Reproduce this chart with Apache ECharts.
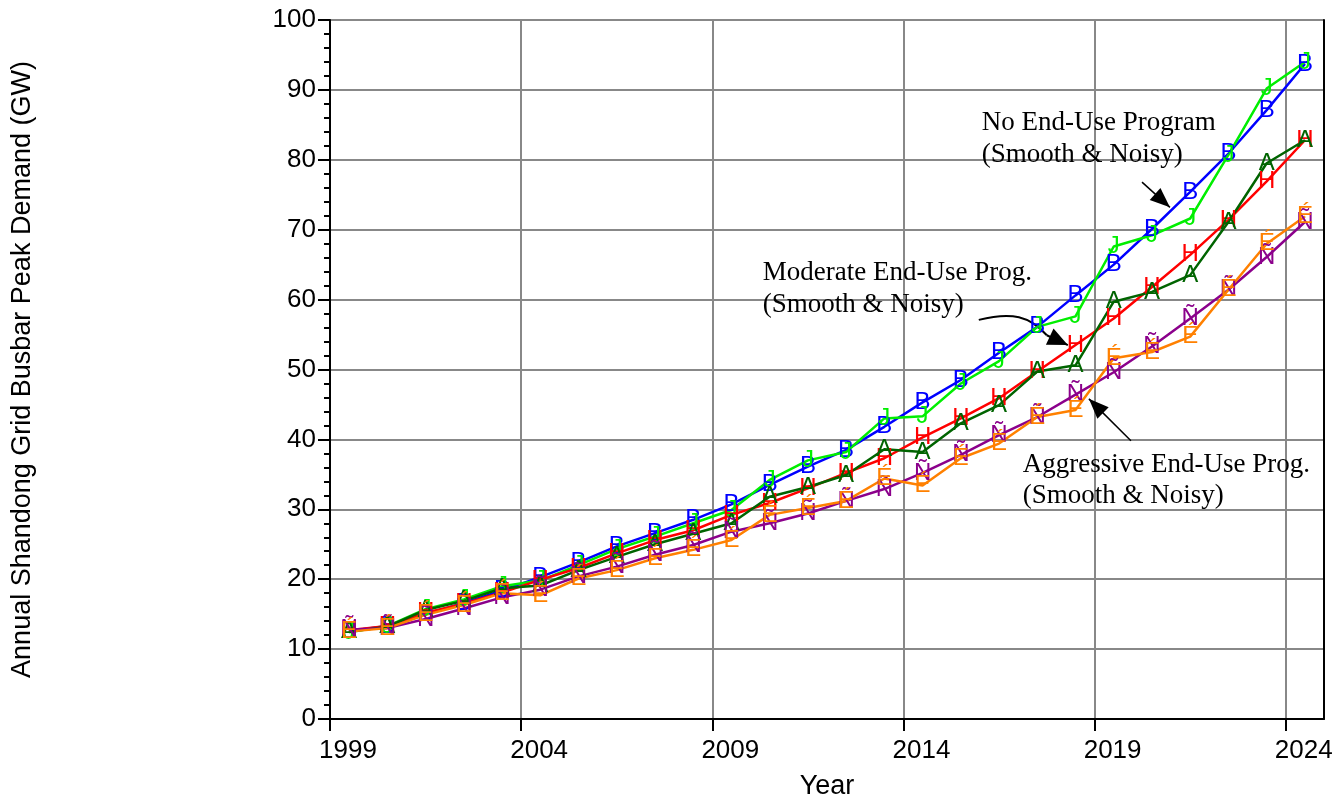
<!DOCTYPE html>
<html>
<head>
<meta charset="utf-8">
<title>Shandong Grid Peak Demand</title>
<script src="https://cdn.jsdelivr.net/npm/echarts@6/dist/echarts.min.js"></script>
<style>
  html, body { margin: 0; padding: 0; background: #fff; }
  #chart { width: 1340px; height: 802px; }
</style>
</head>
<body>
<div id="chart"></div>
<script>
// data points sit mid-year
const years = [1999.5, 2000.5, 2001.5, 2002.5, 2003.5, 2004.5, 2005.5, 2006.5, 2007.5, 2008.5,
  2009.5, 2010.5, 2011.5, 2012.5, 2013.5, 2014.5, 2015.5, 2016.5, 2017.5, 2018.5,
  2019.5, 2020.5, 2021.5, 2022.5, 2023.5, 2024.5]

// No End-Use Program
const noProgSmooth = [12.6, 13.3, 15.0, 16.6, 18.4, 20.3, 22.4, 24.7, 26.6, 28.5,
  30.7, 33.5, 36.1, 38.5, 41.8, 45.3, 48.5, 52.4, 56.1, 60.6,
  65.0, 70.1, 75.4, 80.9, 87.1, 93.7]
const noProgNoisy = [12.4, 13.3, 15.7, 17.1, 19.0, 19.8, 22.0, 24.3, 26.1, 28.0,
  29.9, 34.2, 37.0, 38.2, 43.0, 43.3, 48.0, 51.2, 56.1, 57.6,
  67.6, 69.2, 71.6, 80.7, 90.2, 94.0]

// Moderate End-Use Prog.
const modSmooth = [12.7, 13.3, 15.2, 16.5, 18.1, 19.9, 21.6, 23.7, 25.6, 27.0,
  29.2, 30.9, 33.0, 35.2, 37.3, 40.3, 43.0, 45.9, 49.7, 53.5,
  57.3, 61.8, 66.4, 71.4, 76.9, 82.8]
const modNoisy = [12.5, 13.2, 15.6, 16.9, 18.7, 19.1, 21.3, 23.2, 25.0, 26.5,
  28.0, 31.8, 33.2, 34.9, 38.6, 38.2, 42.3, 44.9, 49.7, 50.6,
  59.7, 61.1, 63.5, 71.1, 79.5, 82.8]

// Aggressive End-Use Prog.
const aggSmooth = [12.8, 13.0, 14.3, 15.8, 17.4, 18.5, 20.4, 21.8, 23.5, 24.9,
  26.8, 28.0, 29.4, 31.2, 32.9, 35.2, 37.8, 40.6, 43.2, 46.4,
  49.6, 53.3, 57.3, 61.4, 66.1, 71.1]
const aggNoisy = [12.5, 13.0, 14.9, 16.3, 18.0, 17.7, 20.1, 21.3, 23.0, 24.2,
  25.6, 29.2, 30.2, 31.2, 34.4, 33.4, 37.3, 39.4, 43.2, 44.2,
  51.6, 52.5, 54.7, 61.4, 68.0, 71.9]

const seriesDefs = [
  { name: 'No End-Use (Smooth)', data: noProgSmooth, letter: 'B', color: '#0000ff' },
  { name: 'No End-Use (Noisy)', data: noProgNoisy, letter: 'J', color: '#00ee00' },
  { name: 'Moderate (Smooth)', data: modSmooth, letter: 'H', color: '#ff0000' },
  { name: 'Moderate (Noisy)', data: modNoisy, letter: 'A', color: '#006400' },
  { name: 'Aggressive (Smooth)', data: aggSmooth, letter: 'Ñ', color: '#8b008b' },
  { name: 'Aggressive (Noisy)', data: aggNoisy, letter: 'É', color: '#ff8000' }
]

// annotation anchors, in [year, GW]
const notes = [
  { lines: ['No End-Use Program', '(Smooth & Noisy)'], at: [2016.05, 85.3], at2: [2016.05, 80.7] },
  { lines: ['Moderate End-Use Prog.', '(Smooth & Noisy)'], at: [2010.32, 63.8], at2: [2010.32, 59.2] },
  { lines: ['Aggressive End-Use Prog.', '(Smooth & Noisy)'], at: [2017.12, 36.3], at2: [2017.12, 31.9] }
]
const straightArrows = [
  { from: [2020.24, 76.8], to: [2020.97, 73.2] },
  { from: [2019.95, 39.8], to: [2018.85, 45.8] }
]
const curvedArrow = { from: [2015.97, 57.1], c1: [2016.85, 58.3], c2: [2017.3, 57.6], end: [2017.75, 54.9], to: [2018.3, 53.5] }

const chart = echarts.init(document.getElementById('chart'))
const axisFont = 'Arial, "Liberation Sans", sans-serif'

chart.setOption({
  animation: false,
  grid: { left: 330, right: 16, top: 20, bottom: 83, outerBoundsMode: 'none' },
  xAxis: {
    type: 'value',
    min: 1999,
    max: 2025,
    interval: 5,
    name: 'Year',
    nameLocation: 'middle',
    nameGap: 54,
    nameTextStyle: { fontFamily: axisFont, fontSize: 27, color: '#000' },
    axisLine: { show: true, onZero: false, lineStyle: { color: '#000', width: 2 } },
    axisTick: { show: true, length: 12, lineStyle: { color: '#000', width: 2 } },
    axisLabel: {
      margin: 19,
      formatter: v => '{t|' + v + '}',
      rich: { t: { fontFamily: axisFont, fontSize: 26, color: '#000', padding: [0, 0, 0, 36] } }
    },
    splitLine: { show: true, lineStyle: { color: '#888', width: 2 } }
  },
  yAxis: [
    {
      type: 'value',
      min: 0,
      max: 100,
      interval: 10,
      name: 'Annual Shandong Grid Busbar Peak Demand (GW)',
      nameLocation: 'middle',
      nameRotate: 90,
      nameGap: 294,
      nameTextStyle: { fontFamily: axisFont, fontSize: 27, color: '#000' },
      axisLine: { show: true, lineStyle: { color: '#000', width: 2 } },
      axisTick: { show: true, length: 12, lineStyle: { color: '#000', width: 2 } },
      minorTick: { show: true, splitNumber: 5, length: 6, lineStyle: { color: '#000', width: 2 } },
      axisLabel: { margin: 14, fontFamily: axisFont, fontSize: 26, color: '#000' },
      splitLine: { show: true, lineStyle: { color: '#888', width: 2 } }
    },
    {
      type: 'value',
      min: 0,
      max: 100,
      position: 'right',
      axisLine: { show: true, lineStyle: { color: '#000', width: 2 } },
      axisTick: { show: false },
      axisLabel: { show: false },
      splitLine: { show: false }
    }
  ],
  series: seriesDefs.map(s => ({
    name: s.name,
    type: 'line',
    yAxisIndex: 0,
    data: years.map((y, i) => [y, s.data[i]]),
    symbol: 'circle',
    symbolSize: 1,
    itemStyle: { color: s.color },
    lineStyle: { color: s.color, width: 2.5 },
    label: {
      show: true,
      position: 'inside',
      formatter: s.letter,
      color: s.color,
      fontFamily: axisFont,
      fontSize: 24
    }
  }))
})

// annotations placed through the grid's coordinate system
function px(p) { return chart.convertToPixel({ gridIndex: 0 }, p) }

function arrowHead(tip, base, len, half) {
  const dx = tip[0] - base[0], dy = tip[1] - base[1]
  const d = Math.sqrt(dx * dx + dy * dy) || 1
  const ux = dx / d, uy = dy / d
  const bx = tip[0] - ux * len, by = tip[1] - uy * len
  return [tip, [bx - uy * half, by + ux * half], [bx + uy * half, by - ux * half]]
}

const graphics = []
notes.forEach(n => {
  const p1 = px(n.at), p2 = px(n.at2)
  graphics.push({ type: 'text', style: { text: n.lines[0], x: p1[0], y: p1[1], verticalAlign: 'middle', font: '27px "Liberation Serif", "Times New Roman", serif', fill: '#000' } })
  graphics.push({ type: 'text', style: { text: n.lines[1], x: p2[0], y: p2[1], verticalAlign: 'middle', font: '27px "Liberation Serif", "Times New Roman", serif', fill: '#000' } })
})
straightArrows.forEach(a => {
  const f = px(a.from), t = px(a.to)
  graphics.push({ type: 'line', shape: { x1: f[0], y1: f[1], x2: t[0], y2: t[1] }, style: { stroke: '#000', lineWidth: 1.5 } })
  graphics.push({ type: 'polygon', shape: { points: arrowHead(t, f, 20, 8) }, style: { fill: '#000' } })
})
{
  const f = px(curvedArrow.from), c1 = px(curvedArrow.c1), c2 = px(curvedArrow.c2)
  const e = px(curvedArrow.end), t = px(curvedArrow.to)
  graphics.push({ type: 'bezierCurve', shape: { x1: f[0], y1: f[1], cpx1: c1[0], cpy1: c1[1], cpx2: c2[0], cpy2: c2[1], x2: e[0], y2: e[1] }, style: { stroke: '#000', lineWidth: 2, fill: null } })
  graphics.push({ type: 'line', shape: { x1: e[0], y1: e[1], x2: t[0], y2: t[1] }, style: { stroke: '#000', lineWidth: 2 } })
  graphics.push({ type: 'polygon', shape: { points: arrowHead(t, e, 20, 9) }, style: { fill: '#000' } })
}
chart.setOption({ graphic: graphics })
</script>
</body>
</html>
